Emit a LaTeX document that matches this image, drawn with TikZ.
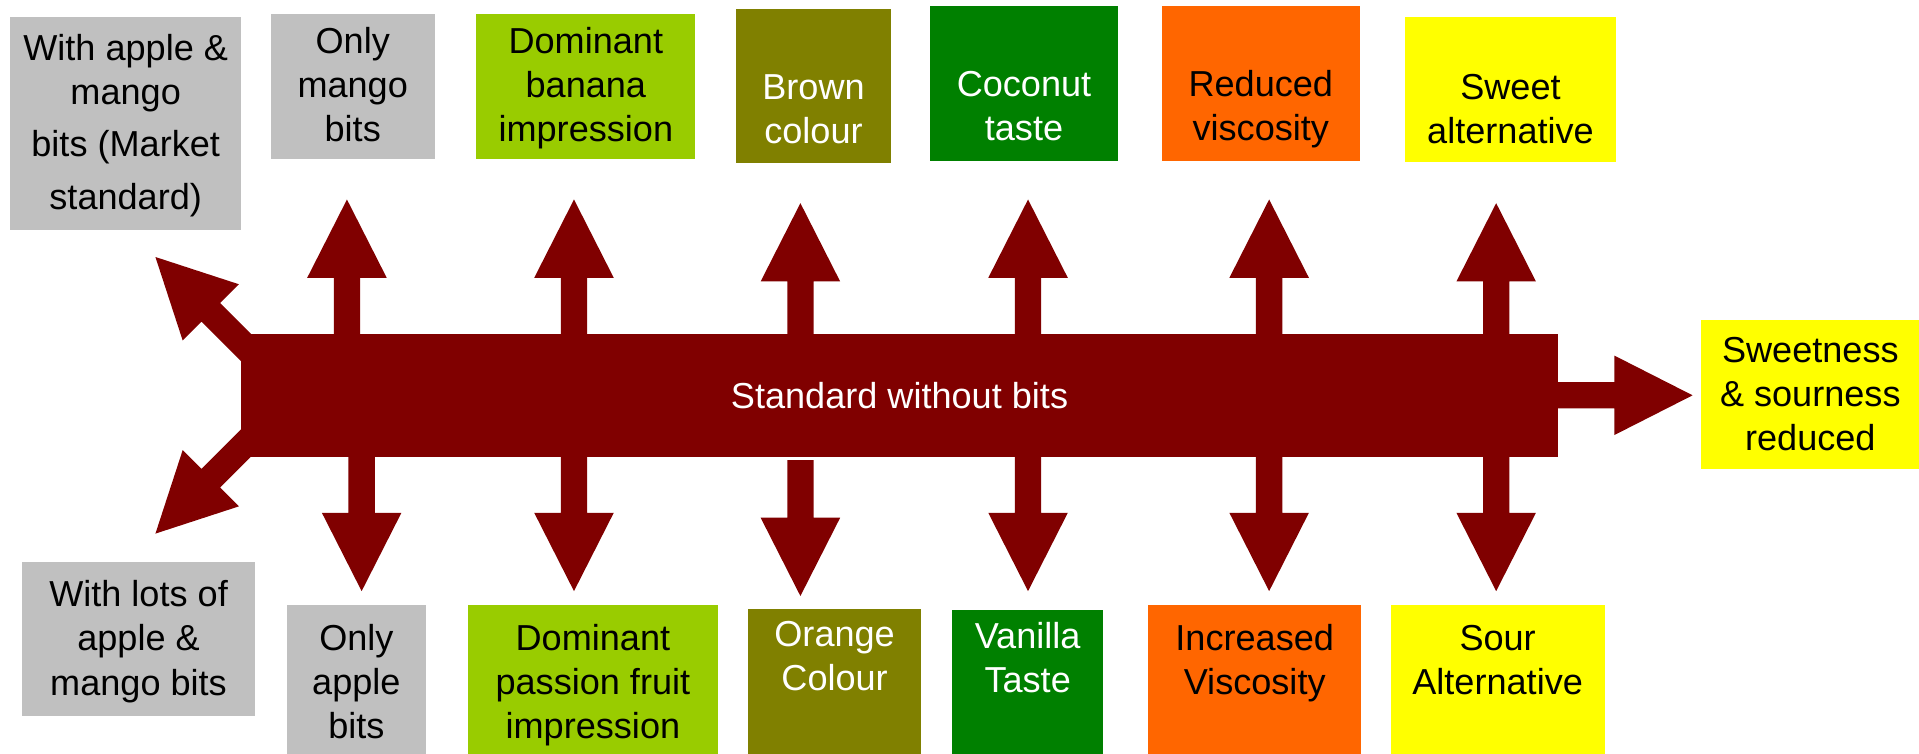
\documentclass[tikz,border=0pt]{standalone}
\usepackage{fontspec}
\setmainfont{Liberation Sans}
\usetikzlibrary{calc}
\definecolor{gry}{HTML}{C0C0C0}
\definecolor{lgreen}{HTML}{99CC00}
\definecolor{olivebox}{HTML}{808000}
\definecolor{dgreen}{HTML}{008000}
\definecolor{orng}{HTML}{FF6600}
\definecolor{yllw}{HTML}{FFFF00}
\definecolor{dred}{HTML}{800000}
% text with fixed first-line height and last-line depth
\newcommand\bxt[3]{\rule{0pt}{#1pt}#3\rule[-#2pt]{0pt}{#2pt}}
% block arrow from named start to named tip
\newcommand\blkarrow[2]{%
  \path ($(#2)!64pt!(#1)$) coordinate (hb);
  \fill[dred] ($(#1)!10.75pt!90:(#2)$) -- ($(hb)!10.75pt!90:(#2)$) -- ($(hb)!32.5pt!90:(#2)$) -- (#2)
    -- ($(hb)!32.5pt!-90:(#2)$) -- ($(hb)!10.75pt!-90:(#2)$) -- ($(#1)!10.75pt!-90:(#2)$) -- cycle;}
\begin{document}
\begin{tikzpicture}[x=1pt,y=-1pt,
  box/.style={rectangle, anchor=north west, inner sep=0pt, align=center,
    font=\fontsize{29.5}{36}\selectfont},
  bar/.style={rectangle, inner sep=0pt, fill=dred, text=white,
    minimum width=1076pt, minimum height=100pt, font=\fontsize{29.5}{36}\selectfont}]
\useasboundingbox (0,0) rectangle (1568,616);
\clip (0,0) rectangle (1568,616);

% top boxes
\node[box, fill=gry, minimum width=189pt, minimum height=174pt] (b1) at (8,14)
  {\bxt{30}{12}{With apple \&\\mango\\[7pt]bits (Market\\[7pt]standard)}};
\node[box, fill=gry, minimum width=134pt, minimum height=119pt] (b2) at (221,11)
  {\bxt{30}{12.4}{Only\\mango\\bits}};
\node[box, fill=lgreen, minimum width=179pt, minimum height=119pt] (b3) at (389,11)
  {\bxt{30}{12.4}{Dominant\\banana\\impression}};
\node[box, fill=olivebox, text=white, minimum width=127pt, minimum height=126pt] (b4) at (601,7)
  {\bxt{65}{7}{Brown\\colour}};
\node[box, fill=dgreen, text=white, minimum width=153pt, minimum height=126pt] (b5) at (760,5)
  {\bxt{65}{7}{Coconut\\taste}};
\node[box, fill=orng, minimum width=162pt, minimum height=126pt] (b6) at (949,5)
  {\bxt{65}{7}{Reduced\\viscosity}};
\node[box, fill=yllw, minimum width=172pt, minimum height=118pt] (b7) at (1148,14)
  {\bxt{60}{8}{Sweet\\alternative}};
\node[box, fill=yllw, minimum width=178pt, minimum height=122pt] (b8) at (1390,261)
  {\bxt{30}{9.4}{Sweetness\\\& sourness\\reduced}};

% bottom boxes
\node[box, fill=gry, minimum width=190pt, minimum height=126pt] (c1) at (18,459)
  {\bxt{30}{10.6}{With lots of\\apple \&\\mango bits}};
\node[box, fill=gry, minimum width=114pt, minimum height=136pt] (c2) at (234,494)
  {\bxt{30}{18.8}{Only\\apple\\bits}};
\node[box, fill=lgreen, minimum width=204.5pt, minimum height=136pt] (c3) at (382,494)
  {\bxt{30}{18.8}{Dominant\\passion fruit\\impression}};
\node[box, fill=olivebox, text=white, minimum width=141.5pt, minimum height=132.4pt] (c4) at (611,497.6)
  {\bxt{25}{59.8}{Orange\\Colour}};
\node[box, fill=dgreen, text=white, minimum width=123pt, minimum height=131.6pt] (c5) at (778,498.4)
  {\bxt{25}{58}{Vanilla\\Taste}};
\node[box, fill=orng, minimum width=174pt, minimum height=136pt] (c6) at (938,494)
  {\bxt{25}{49.8}{Increased\\Viscosity}};
\node[box, fill=yllw, minimum width=175pt, minimum height=136pt] (c7) at (1136,494)
  {\bxt{25}{51}{Sour\\Alternative}};

% arrow end points (starts lie inside the bar, clear of its text)
\coordinate (dls) at (215,298);  \coordinate (dlt) at (127,210);
\coordinate (dbs) at (215,348);  \coordinate (dbt) at (127,436);
\coordinate (rs) at (1260,323);  \coordinate (rt) at (1383,323);
\coordinate (u1s) at (283.5,285); \coordinate (u1t) at (283.5,163);
\coordinate (u2s) at (469,285);   \coordinate (u2t) at (469,163);
\coordinate (u3s) at (654,285);   \coordinate (u3t) at (654,166);
\coordinate (u4s) at (840,285);   \coordinate (u4t) at (840,163);
\coordinate (u5s) at (1037,285);  \coordinate (u5t) at (1037,163);
\coordinate (u6s) at (1222.5,285); \coordinate (u6t) at (1222.5,166);
\coordinate (d1s) at (295.5,361); \coordinate (d1t) at (295.5,483);
\coordinate (d2s) at (469,361);   \coordinate (d2t) at (469,483);
\coordinate (d3s) at (654,376);   \coordinate (d3t) at (654,487);
\coordinate (d4s) at (840,361);   \coordinate (d4t) at (840,483);
\coordinate (d5s) at (1037,361);  \coordinate (d5t) at (1037,483);
\coordinate (d6s) at (1222.5,361); \coordinate (d6t) at (1222.5,483);

\blkarrow{dls}{dlt}
\blkarrow{dbs}{dbt}
\blkarrow{rs}{rt}
\blkarrow{u1s}{u1t}
\blkarrow{u2s}{u2t}
\blkarrow{u3s}{u3t}
\blkarrow{u4s}{u4t}
\blkarrow{u5s}{u5t}
\blkarrow{u6s}{u6t}
\blkarrow{d1s}{d1t}
\blkarrow{d2s}{d2t}
\blkarrow{d3s}{d3t}
\blkarrow{d4s}{d4t}
\blkarrow{d5s}{d5t}
\blkarrow{d6s}{d6t}

% main bar (drawn last so its text stays on top)
\node[bar] (main) at (735,323) {Standard without bits};
\end{tikzpicture}
\end{document}
